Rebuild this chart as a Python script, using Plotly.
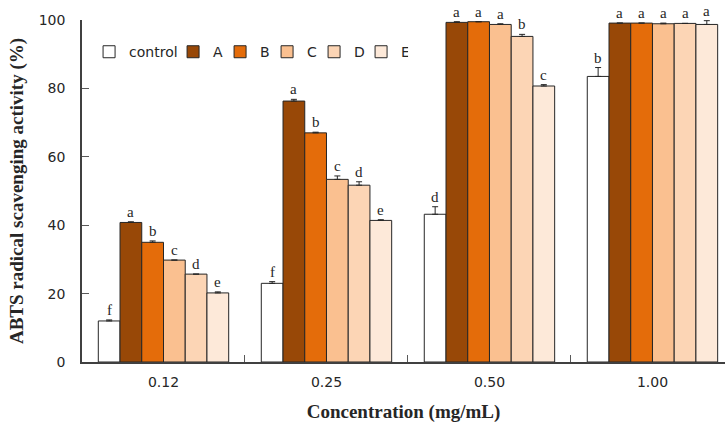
import plotly.graph_objects as go

# Concentrations tested (x categories)
concentrations = ["0.12", "0.25", "0.50", "1.00"]

# Series names, mean activity (%), upper error and significance letters
series_names = ["control", "A", "B", "C", "D", "E"]

control = [12.0, 23.0, 43.2, 83.5]
sample_a = [40.8, 76.3, 99.3, 99.1]
sample_b = [35.0, 67.0, 99.5, 99.1]
sample_c = [29.8, 53.4, 98.7, 98.9]
sample_d = [25.7, 51.7, 95.2, 99.0]
sample_e = [20.2, 41.4, 80.7, 98.7]

err_control = [0.3, 0.5, 2.2, 2.6]
err_a = [0.2, 0.5, 0.2, 0.0]
err_b = [0.4, 0.2, 0.0, 0.0]
err_c = [0.0, 1.0, 0.2, 0.2]
err_d = [0.0, 1.0, 0.6, 0.0]
err_e = [0.3, 0.2, 0.4, 1.1]

letters_control = ["f", "f", "d", "b"]
letters_a = ["a", "a", "a", "a"]
letters_b = ["b", "b", "a", "a"]
letters_c = ["c", "c", "a", "a"]
letters_d = ["d", "d", "b", "a"]
letters_e = ["e", "e", "c", "a"]

values = [control, sample_a, sample_b, sample_c, sample_d, sample_e]
errors = [err_control, err_a, err_b, err_c, err_d, err_e]
letters = [letters_control, letters_a, letters_b, letters_c, letters_d, letters_e]
colors = ["#FFFFFF", "#984807", "#E46C0A", "#FAC090", "#FCD5B5", "#FDE9D9"]
legend_widths = [39, 2, 2, 2, 2, 2]

BARGAP = 0.2
n_series = len(series_names)
bar_w = (1 - BARGAP) / n_series

fig = go.Figure()
annotations = []
for j, name in enumerate(series_names):
    fig.add_trace(go.Bar(
        name=name,
        x=concentrations,
        y=values[j],
        legendwidth=legend_widths[j],
        marker=dict(color=colors[j], line=dict(color="#262626", width=1)),
        error_y=dict(type="data", symmetric=False, array=errors[j],
                     arrayminus=[0] * len(concentrations),
                     color="#262626", thickness=1, width=3),
    ))
    for i in range(len(concentrations)):
        annotations.append(dict(
            x=i + (j - (n_series - 1) / 2) * bar_w,
            y=values[j][i] + errors[j][i],
            xref="x", yref="y",
            text=letters[j][i],
            showarrow=False,
            yanchor="bottom",
            yshift=0,
            font=dict(family="Liberation Serif", size=15, color="#262626"),
        ))

axis_font = dict(family="DejaVu Sans", size=14, color="#262626")

fig.update_layout(
    width=725, height=423,
    margin=dict(l=82, r=0, t=20, b=61),
    paper_bgcolor="white", plot_bgcolor="white",
    barmode="group", bargap=BARGAP, bargroupgap=0,
    showlegend=True,
    legend=dict(orientation="h", x=0.011, y=0.906, xanchor="left", yanchor="middle",
                font=dict(family="DejaVu Sans", size=14, color="#262626"),
                bgcolor="rgba(0,0,0,0)", traceorder="normal"),
    annotations=annotations,
    xaxis=dict(
        type="category",
        range=[-0.5, 3.445],
        tickson="boundaries",
        ticks="inside", ticklen=7, tickcolor="#595959",
        showline=True, linecolor="#404040", linewidth=1.5,
        showgrid=False, zeroline=False,
        tickfont=axis_font,
        ticklabelstandoff=6,
        title=dict(text="<b>Concentration (mg/mL)</b>",
                   font=dict(family="Liberation Serif", size=19, color="#262626"),
                   standoff=16),
    ),
    yaxis=dict(
        range=[0, 100],
        tickvals=[0, 20, 40, 60, 80, 100],
        ticks="inside", ticklen=7, tickcolor="#595959",
        showline=True, linecolor="#404040", linewidth=1.5,
        showgrid=False, zeroline=False,
        tickfont=axis_font,
        ticklabelstandoff=12,
        title=dict(text="<b>ABTS radical scavenging activity (%)</b>",
                   font=dict(family="Liberation Serif", size=19, color="#262626"),
                   standoff=10),
    ),
)

fig.write_html("out.html")
